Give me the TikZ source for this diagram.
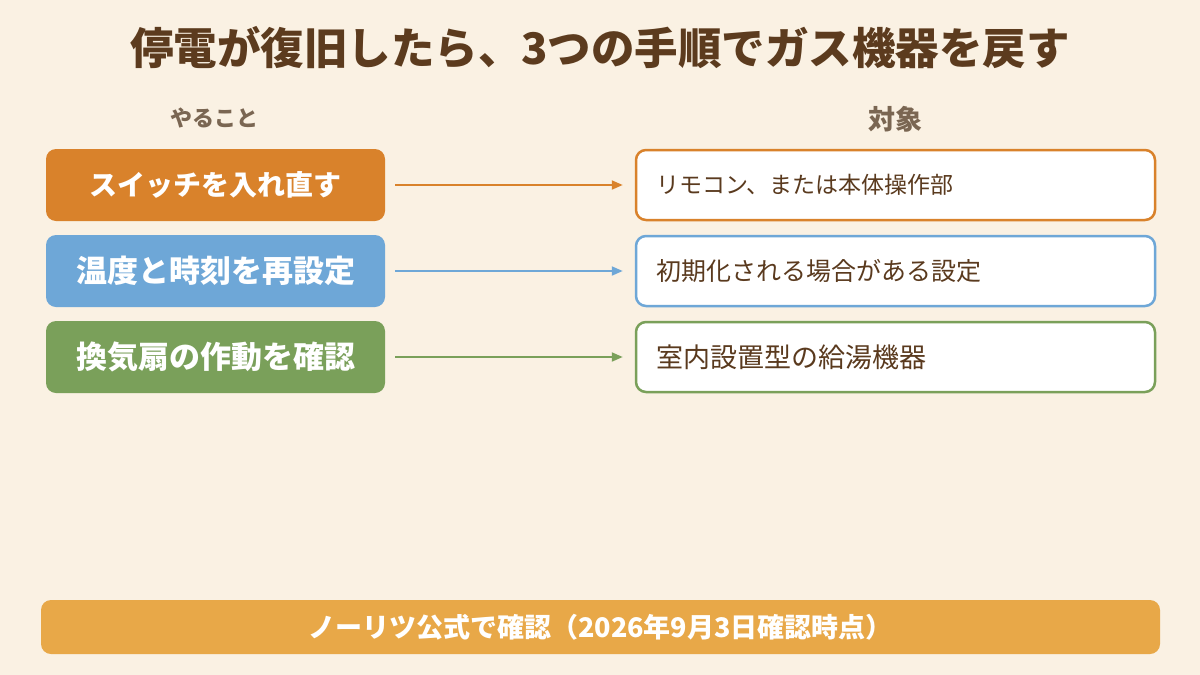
\documentclass[tikz,border=0pt]{standalone}
\usepackage{fontspec}
\newfontfamily\jp{Noto Sans CJK JP}
\usetikzlibrary{arrows.meta}
\definecolor{bg}{HTML}{FAF1E3}
\definecolor{titlec}{HTML}{5C3B1E}
\definecolor{headc}{HTML}{7A6652}
\definecolor{txtc}{HTML}{5A3A1E}
\definecolor{orangec}{HTML}{D9822B}
\definecolor{bluec}{HTML}{6EA7D7}
\definecolor{greenc}{HTML}{7AA05A}
\definecolor{footc}{HTML}{E8A848}
\tikzset{
  actbox/.style={rounded corners=10pt, minimum width=339pt, minimum height=72pt, inner sep=0pt, text=white, font=\jp\bfseries},
  tgtbox/.style={rounded corners=10pt, fill=white, line width=2.5pt, minimum width=519pt, minimum height=70pt, inner sep=0pt},
  tgttext/.style={anchor=west, text=txtc, inner sep=0pt},
  conn/.style={line width=2pt, -{Triangle[length=11pt,width=9pt]}, shorten <=10pt, shorten >=12pt},
  head/.style={text=headc, font=\jp\bfseries, inner sep=0pt},
}
\begin{document}
\begin{tikzpicture}[x=1pt,y=-1pt]
\useasboundingbox (0,0) rectangle (1200,675);
\fill[bg] (0,0) rectangle (1200,675);
\node[text=titlec, font=\jp\bfseries\fontsize{43.5}{50}\selectfont, inner sep=0pt] (title) at (600,48) {停電が復旧したら、3つの手順でガス機器を戻す};
\node[head, font=\jp\bfseries\fontsize{22}{26}\selectfont] (h1) at (214,118) {やること};
\node[head, font=\jp\bfseries\fontsize{27}{32}\selectfont] (h2) at (895,119) {対象};
% left boxes
\node[actbox, fill=orangec, font=\jp\bfseries\fontsize{28}{34}\selectfont] (l1) at (215.5,185) {スイッチを入れ直す};
\node[actbox, fill=bluec, font=\jp\bfseries\fontsize{31}{36}\selectfont] (l2) at (215.5,271) {温度と時刻を再設定};
\node[actbox, fill=greenc, font=\jp\bfseries\fontsize{31}{36}\selectfont] (l3) at (215.5,357) {換気扇の作動を確認};
% right boxes
\node[tgtbox, draw=orangec] (r1) at (895.5,185) {};
\node[tgtbox, draw=bluec] (r2) at (895.5,271) {};
\node[tgtbox, draw=greenc] (r3) at (895.5,357) {};
\node[tgttext, font=\jp\fontsize{23}{28}\selectfont] (t1) at (656,185) {リモコン、または本体操作部};
\node[tgttext, font=\jp\fontsize{25}{30}\selectfont] (t2) at (656,271) {初期化される場合がある設定};
\node[tgttext, font=\jp\fontsize{27}{32}\selectfont] (t3) at (656,357) {室内設置型の給湯機器};
% connectors
\draw[conn, draw=orangec, fill=orangec] (l1) -- (r1);
\draw[conn, draw=bluec, fill=bluec] (l2) -- (r2);
\draw[conn, draw=greenc, fill=greenc] (l3) -- (r3);
% footer
\node[rounded corners=10pt, fill=footc, minimum width=1119pt, minimum height=54pt, inner sep=0pt, text=white, font=\jp\bfseries\fontsize{27}{32}\selectfont] (foot) at (600.5,627) {ノーリツ公式で確認（2026年9月3日確認時点）};
\end{tikzpicture}
\end{document}
